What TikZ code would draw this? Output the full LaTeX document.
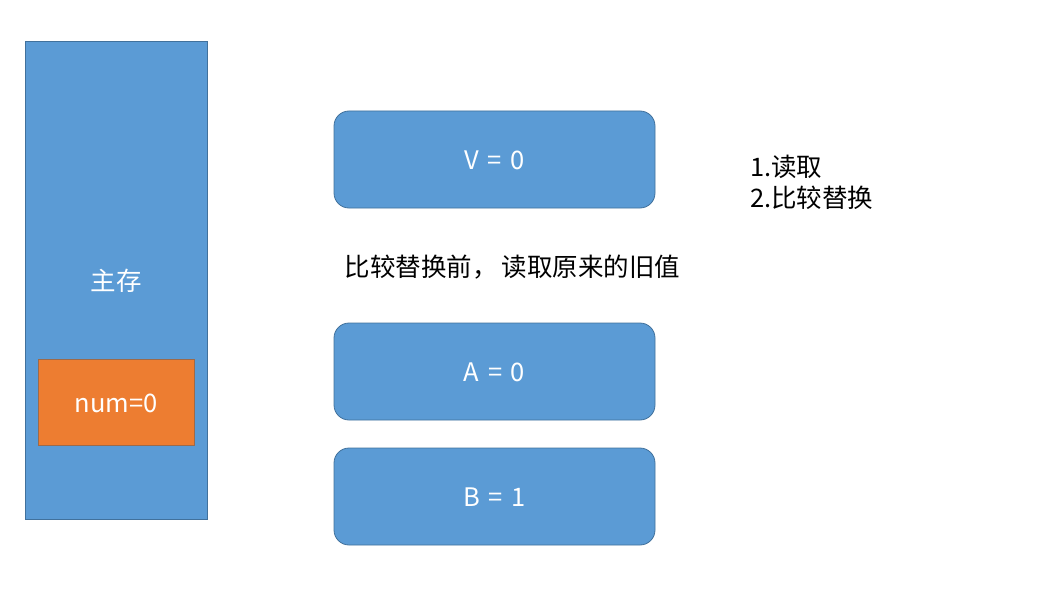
\documentclass[tikz,border=0pt]{standalone}
\usepackage{fontspec}
\setmainfont{Noto Sans CJK SC}
\begin{document}
\begin{tikzpicture}[x=1pt,y=-1pt,
  blue box/.style={draw=blueedge,fill=bluefill,line width=0.8pt},
  round box/.style={blue box,rounded corners=15pt},
  wlabel/.style={text=white,font=\fontsize{25.5}{30}\selectfont},
  blabel/.style={text=black,font=\fontsize{25.5}{31}\selectfont}]
\definecolor{bluefill}{HTML}{5B9BD5}
\definecolor{blueedge}{HTML}{41719C}
\definecolor{orangefill}{HTML}{ED7D31}
\definecolor{orangeedge}{HTML}{9C6A4A}
\useasboundingbox (0,0) rectangle (1051,599);
\draw[blue box] (25,41) rectangle (207,519);
\node[wlabel] (main) at (116,281) {主存};
\draw[orangeedge,fill=orangefill,line width=0.8pt] (38,359) rectangle (194,445);
\node[wlabel] (num) at (116,403) {num=0};
\draw[round box] (334,111) rectangle (655,208);
\node[wlabel] (v) at (494.5,160) {V\hspace{3pt} = \hspace{3pt}0};
\draw[round box] (334,323) rectangle (655,420);
\node[wlabel] (a) at (494.5,372) {A\hspace{3pt} = \hspace{3pt}0};
\draw[round box] (334,448) rectangle (655,545);
\node[wlabel] (b) at (494.5,497) {B\hspace{3pt} = \hspace{3pt}1};
\node[blabel,anchor=west] (note) at (341,267) {比较替换前，\hspace{4pt}读取原来的旧值};
\node[blabel,anchor=north west,align=left,inner sep=0pt] (steps) at (750,155) {1.读取\\2.比较替换};
\end{tikzpicture}
\end{document}
